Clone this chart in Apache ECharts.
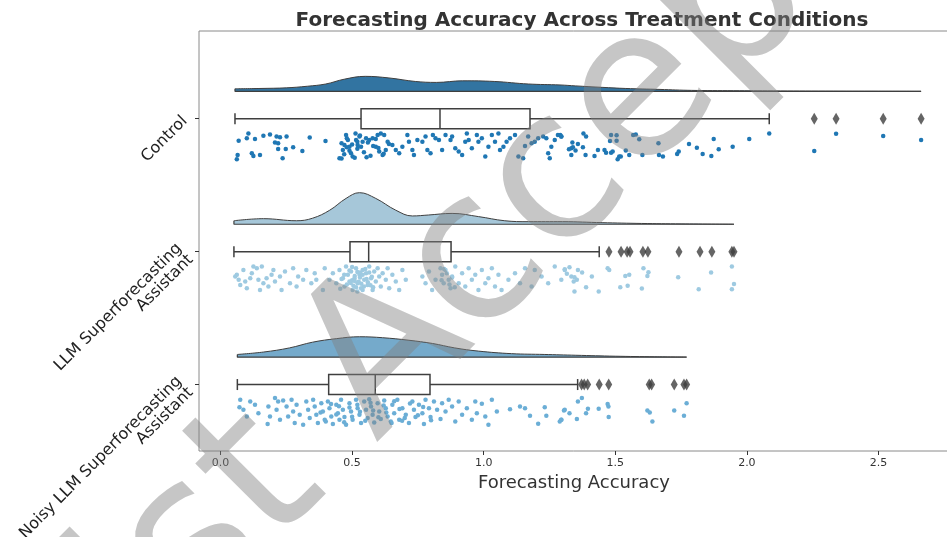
<!DOCTYPE html>
<html>
<head>
<meta charset="utf-8">
<title>Forecasting Accuracy Across Treatment Conditions</title>
<script src="https://cdn.jsdelivr.net/npm/echarts@6/dist/echarts.min.js"></script>
<style>
  html, body { margin: 0; padding: 0; background: #fff; }
  #chart { width: 947px; height: 537px; }
</style>
</head>
<body>
<div id="chart"></div>
<script>
const categories = ['Control', 'LLM Superforecasting\nAssistant', 'Noisy LLM Superforecasting\nAssistant'];
const xTicks = [0, 0.5, 1, 1.5, 2, 2.5];

// box stats: [whisker low, q1, median, q3, whisker high]
const controlBox = [0.055, 0.534, 0.834, 1.176, 2.085];
const llmBox = [0.051, 0.492, 0.563, 0.876, 1.439];
const noisyBox = [0.064, 0.411, 0.588, 0.796, 1.357];

const controlOutliers = [2.256, 2.339, 2.518, 2.662];
const llmOutliers = [1.476, 1.522, 1.545, 1.556, 1.605, 1.624, 1.742, 1.822, 1.867, 1.943, 1.951];
const noisyOutliers = [1.372, 1.382, 1.395, 1.439, 1.475, 1.629, 1.638, 1.724, 1.761, 1.771];

// half-violin density: [x, relative density]
const controlDensity = [[0.055, 0.08], [0.15, 0.09], [0.25, 0.11], [0.33, 0.16], [0.40, 0.23], [0.47, 0.38], [0.55, 0.47], [0.64, 0.42], [0.74, 0.31], [0.82, 0.28], [0.92, 0.33], [1.04, 0.31], [1.17, 0.23], [1.29, 0.2], [1.35, 0.17], [1.45, 0.125], [1.54, 0.09], [1.67, 0.06], [1.79, 0.03], [1.95, 0.02], [2.1, 0.012], [2.3, 0.006], [2.5, 0.003], [2.662, 0.001]];
const llmDensity = [[0.051, 0.11], [0.163, 0.175], [0.289, 0.11], [0.35, 0.19], [0.415, 0.44], [0.477, 0.81], [0.528, 0.99], [0.59, 0.81], [0.666, 0.44], [0.729, 0.26], [0.79, 0.29], [0.88, 0.34], [0.98, 0.24], [1.08, 0.11], [1.17, 0.08], [1.3, 0.08], [1.45, 0.05], [1.6, 0.025], [1.75, 0.012], [1.951, 0.002]];
const noisyDensity = [[0.064, 0.085], [0.163, 0.16], [0.262, 0.29], [0.35, 0.47], [0.44, 0.58], [0.528, 0.64], [0.616, 0.61], [0.716, 0.53], [0.805, 0.43], [0.89, 0.29], [0.98, 0.19], [1.106, 0.11], [1.23, 0.085], [1.35, 0.06], [1.5, 0.03], [1.65, 0.012], [1.771, 0.002]];

// strip points: [x, jitter -1..1]
const controlPoints = [
  [0.069, -0.38], [0.065, 0.64], [0.062, 0.95], [0.106, -0.9], [0.1, -0.55], [0.131, -0.5], [0.119, 0.52], [0.125, 0.71], [0.15, 0.64],
  [0.163, -0.74], [0.188, -0.83], [0.213, -0.67], [0.226, -0.62], [0.251, -0.67], [0.207, -0.24], [0.219, -0.19], [0.248, 0.21], [0.219, 0.21],
  [0.236, 0.88], [0.276, 0.1], [0.311, 0.36], [0.339, -0.6], [0.399, -0.36], [0.452, 0.88], [0.465, 0.29], [0.471, -0.07], [0.477, -0.79],
  [0.484, -0.43], [0.49, 0.05], [0.496, 0.52], [0.502, 0.76], [0.513, -0.9], [0.515, -0.43], [0.528, -0.67], [0.521, -0.07], [0.534, 0.05],
  [0.54, -0.31], [0.553, -0.55], [0.565, -0.43], [0.578, -0.55], [0.597, -0.79], [0.609, -0.9], [0.622, -0.79], [0.59, 0.05], [0.603, 0.4],
  [0.616, 0.64], [0.628, 0.29], [0.635, -0.31], [0.653, -0.07], [0.666, 0.29], [0.679, 0.52], [0.691, 0.05], [0.71, -0.79], [0.716, -0.31],
  [0.729, 0.29], [0.735, 0.64], [0.748, -0.43], [0.767, -0.31], [0.779, -0.67], [0.786, 0.29], [0.798, 0.52], [0.807, -0.79], [0.817, -0.55],
  [0.83, -0.43], [0.842, 0.29], [0.855, -0.79], [0.874, -0.43], [0.88, -0.67], [0.892, 0.17], [0.905, 0.4], [0.918, 0.64], [0.93, -0.31],
  [0.936, -0.9], [0.943, -0.43], [0.955, 0.17], [0.974, -0.79], [0.98, -0.31], [0.993, -0.55], [1.006, 0.76], [1.018, 0.05], [1.031, -0.79],
  [1.043, -0.31], [1.056, -0.9], [1.062, 0.29], [1.075, 0.05], [1.087, -0.31], [1.1, -0.55], [1.119, -0.79], [1.132, 0.76], [1.15, 0.88],
  [1.157, 0], [1.169, -0.67], [1.182, -0.19], [1.194, -0.31], [1.207, -0.55], [1.226, -0.67], [1.238, -0.55], [1.245, 0.52], [1.251, 0.88],
  [1.257, 0.05], [1.27, -0.43], [1.282, -0.79], [1.295, -0.67], [1.333, 0.17],
  [0.46, -0.2], [0.47, 0.6], [0.48, -0.55], [0.49, 0.35], [0.5, -0.1], [0.51, 0.85], [0.52, 0.2], [0.53, -0.75], [0.545, 0.45], [0.56, -0.25],
  [0.57, 0.7], [0.58, 0.0], [0.59, -0.5], [0.6, 0.15], [0.62, 0.55], [0.64, -0.15], [0.46, 0.9], [0.48, 0.1], [0.52, -0.3], [0.555, 0.8],
  [1.291, -0.79], [1.295, -0.67], [1.379, -0.9], [1.389, -0.67], [1.337, -0.24], [1.358, -0.14], [1.339, 0.1], [1.324, 0.24], [1.349, 0.33],
  [1.377, 0.1], [1.333, 0.64], [1.387, 0.64], [1.421, 0.71], [1.434, 0.29], [1.459, 0.29], [1.465, 0.48], [1.484, 0.48], [1.49, 0.4],
  [1.484, -0.79], [1.505, -0.76], [1.48, -0.36], [1.505, -0.38], [1.515, 0.76], [1.509, 0.95], [1.521, 0.76], [1.54, 0.33], [1.553, 0.64],
  [1.568, -0.79], [1.578, -0.83], [1.591, -0.48], [1.603, 0.64], [1.664, -0.19], [1.666, 0.64], [1.681, 0.76], [1.735, 0.57], [1.741, 0.4],
  [1.78, -0.14], [1.81, 0.12], [1.832, 0.57], [1.865, 0.71], [1.874, -0.5], [1.893, 0.24], [1.946, 0.05], [2.009, -0.5], [2.085, -0.9],
  [2.256, 0.36], [2.339, -0.88], [2.518, -0.71], [2.662, -0.43]
];
const llmPoints = [
  [0.056, -0.17], [0.062, -0.29], [0.069, 0.07], [0.075, 0.43], [0.087, -0.64], [0.094, 0.19], [0.1, 0.67], [0.113, -0.05], [0.119, -0.4],
  [0.125, -0.88], [0.138, -0.76], [0.144, 0.07], [0.15, 0.79], [0.157, -0.88], [0.163, 0.31], [0.175, -0.05], [0.182, 0.55], [0.194, -0.29],
  [0.201, -0.64], [0.207, 0.19], [0.226, -0.17], [0.232, 0.79], [0.245, -0.52], [0.264, 0.31], [0.276, -0.76], [0.289, 0.55], [0.295, -0.17],
  [0.314, 0.07], [0.326, -0.64], [0.345, 0.31], [0.358, -0.4], [0.364, 0.07], [0.389, 0.79], [0.396, -0.76], [0.414, 0.07], [0.427, -0.4],
  [0.44, 0.31], [0.452, -0.64], [0.465, -0.05], [0.471, 0.55], [0.477, -0.88], [0.484, -0.29], [0.49, 0.19], [0.496, -0.52], [0.502, 0.79],
  [0.509, -0.05], [0.515, -0.76], [0.521, 0.31], [0.528, -0.29], [0.534, 0.67], [0.54, -0.64], [0.546, 0.07], [0.553, -0.4], [0.559, 0.43],
  [0.565, -0.88], [0.572, -0.05], [0.578, 0.79], [0.584, -0.52], [0.59, 0.19], [0.597, -0.76], [0.603, -0.17], [0.609, 0.55], [0.616, -0.4],
  [0.628, 0.07], [0.635, -0.76], [0.641, 0.67], [0.653, -0.29], [0.666, 0.19], [0.679, 0.79], [0.691, -0.64], [0.704, 0.07], [0.767, -0.17],
  [0.779, 0.31], [0.792, -0.52], [0.804, 0.79], [0.817, 0.07], [0.836, -0.76], [0.842, -0.29], [0.848, 0.31], [0.855, -0.64], [0.867, 0.07],
  [0.874, 0.67], [0.88, -0.17], [0.892, -0.88], [0.905, 0.31], [0.918, -0.4], [0.93, 0.55], [0.943, -0.76], [0.955, 0.07], [0.968, -0.29],
  [0.98, 0.79], [0.993, -0.64], [1.006, 0.31], [1.018, -0.05], [1.031, -0.76], [1.043, 0.55], [1.056, -0.29], [1.068, 0.79], [1.094, 0.07],
  [1.119, -0.4], [1.138, 0.31], [1.157, -0.76], [1.182, 0.55], [1.194, -0.64], [1.22, -0.17], [1.245, 0.31], [1.27, -0.88], [1.295, 0.07],
  [1.308, -0.64], [1.333, -0.17],
  [0.47, -0.3], [0.48, 0.4], [0.49, -0.6], [0.5, 0.1], [0.505, 0.5], [0.51, -0.2], [0.515, 0.6], [0.52, -0.5], [0.525, 0.2], [0.53, -0.1],
  [0.535, 0.35], [0.54, -0.3], [0.545, 0.55], [0.55, -0.7], [0.555, 0.0], [0.56, 0.25], [0.565, -0.45], [0.57, 0.45], [0.575, -0.15], [0.58, 0.6],
  [0.46, 0.0], [0.455, 0.7], [0.5, -0.85], [0.52, 0.9], [0.54, 0.8], [0.495, 0.3], [0.51, 0.15], [0.53, -0.45],
  [0.84, 0.1], [0.86, -0.4], [0.87, 0.4], [0.88, -0.1], [0.89, 0.6], [0.85, -0.7],
  [1.308, -0.69], [1.316, -0.36], [1.326, -0.83], [1.358, -0.64], [1.374, -0.45], [1.345, -0.12], [1.342, 0.19], [1.354, 0.07], [1.345, 0.9],
  [1.389, 0.6], [1.411, -0.17], [1.437, 0.9], [1.471, -0.76], [1.477, -0.64], [1.519, 0.6], [1.538, -0.21], [1.553, -0.29], [1.547, 0.5],
  [1.601, 0.69], [1.607, -0.76], [1.626, -0.48], [1.622, -0.21], [1.739, -0.12], [1.817, 0.74], [1.864, -0.45], [1.943, -0.88], [1.951, 0.36],
  [1.943, 0.74]
];
const noisyPoints = [
  [0.075, -0.86], [0.072, -0.33], [0.087, -0.14], [0.1, 0.33], [0.113, -0.74], [0.131, -0.5], [0.144, 0.1], [0.182, -0.38], [0.188, 0.33],
  [0.179, 0.88], [0.207, -0.98], [0.219, -0.74], [0.213, -0.14], [0.226, 0.57], [0.238, -0.81], [0.251, -0.38], [0.257, 0.33], [0.27, -0.86],
  [0.276, -0.02], [0.282, 0.81], [0.289, -0.5], [0.301, 0.21], [0.314, 0.93], [0.326, -0.74], [0.333, -0.14], [0.339, 0.45], [0.352, -0.86],
  [0.358, -0.38], [0.364, 0.21], [0.37, 0.81], [0.383, -0.62], [0.389, -0.02], [0.396, 0.57], [0.408, -0.74], [0.414, -0.26], [0.421, 0.33],
  [0.427, 0.88], [0.44, -0.5], [0.446, 0.1], [0.452, 0.57], [0.458, -0.86], [0.465, -0.14], [0.471, 0.38], [0.477, 0.93], [0.49, -0.62],
  [0.496, -0.02], [0.502, 0.57], [0.515, -0.86], [0.521, -0.26], [0.528, 0.21], [0.534, 0.81], [0.546, -0.74], [0.553, -0.14], [0.559, 0.45],
  [0.565, -0.9], [0.572, -0.38], [0.578, 0.21], [0.584, 0.76], [0.597, -0.62], [0.603, -0.02], [0.609, 0.52], [0.622, -0.81], [0.628, -0.26],
  [0.635, 0.33], [0.647, 0.69], [0.653, -0.5], [0.66, 0.1], [0.672, -0.86], [0.679, 0.57], [0.691, -0.26], [0.704, 0.21], [0.716, 0.81],
  [0.729, -0.74], [0.735, -0.14], [0.741, 0.38], [0.754, -0.5], [0.767, 0.1], [0.773, 0.88], [0.779, -0.86], [0.792, -0.26], [0.798, 0.38],
  [0.811, -0.74], [0.823, -0.14], [0.836, 0.52], [0.842, -0.62], [0.855, -0.02], [0.867, -0.86], [0.88, -0.38], [0.892, 0.69], [0.905, -0.74],
  [0.918, 0.21], [0.936, -0.26], [0.955, 0.57], [0.968, -0.74], [0.974, 0.1], [0.993, -0.57], [1.006, 0.33], [1.018, 0.93], [1.031, -0.86],
  [1.05, -0.02], [1.1, -0.19], [1.138, -0.38], [1.157, -0.26], [1.176, 0.29], [1.207, 0.86], [1.232, -0.33], [1.238, 0.29], [1.295, 0.57],
  [1.308, -0.14],
  [0.4, 0.7], [0.45, -0.4], [0.5, 0.35], [0.52, -0.5], [0.55, 0.65], [0.58, -0.1], [0.6, 0.4], [0.62, -0.45], [0.65, 0.8], [0.68, -0.2],
  [0.7, 0.45], [0.72, -0.6], [0.75, 0.25], [0.38, 0.05], [0.42, -0.55], [0.47, 0.75], [0.53, 0.0], [0.57, -0.65], [0.63, 0.05], [0.66, -0.75],
  [0.69, 0.65], [0.77, -0.35], [0.8, 0.6], [0.44, 0.2], [0.49, -0.3],
  [1.295, 0.57], [1.289, 0.69], [1.305, -0.1], [1.326, 0.1], [1.354, 0.52], [1.358, -0.74], [1.373, -0.98], [1.389, 0.1], [1.396, -0.21],
  [1.437, -0.21], [1.471, -0.55], [1.474, -0.38], [1.475, 0.38], [1.622, -0.1], [1.631, 0.05], [1.641, 0.69], [1.724, -0.1], [1.761, 0.29],
  [1.771, -0.62]
];

// layout in y-axis units (category rows sit at 0, 1, 2)
const VIOLIN_BASE = 0.206;
const VIOLIN_SCALE = 0.24;
const STRIP_CENTER = 0.205;
const STRIP_HALF = 0.105;
const EDGE = '#3f3f3f';

const groups = [
  { box: controlBox, density: controlDensity, points: controlPoints, outliers: controlOutliers, fill: '#3274a1', dot: '#1f77b4' },
  { box: llmBox, density: llmDensity, points: llmPoints, outliers: llmOutliers, fill: '#a6c7d9', dot: '#9ecae1' },
  { box: noisyBox, density: noisyDensity, points: noisyPoints, outliers: noisyOutliers, fill: '#75aacb', dot: '#6baed6' }
];

const series = [];
groups.forEach((g, i) => {
  const base = i - VIOLIN_BASE;
  const curve = g.density.map(d => [d[0], base - d[1] * VIOLIN_SCALE]);
  // violin half (smoothed density filled down to its baseline)
  series.push({
    type: 'line',
    data: curve,
    smooth: 0.4,
    symbol: 'none',
    lineStyle: { color: EDGE, width: 1 },
    areaStyle: { color: g.fill, opacity: 1, origin: base },
    z: 2,
    silent: true
  });
  // flat bottom edge + left cut edge of the violin
  series.push({
    type: 'line',
    data: [[curve[curve.length - 1][0], base], [curve[0][0], base], curve[0]],
    symbol: 'none',
    lineStyle: { color: EDGE, width: 1.2 },
    z: 3,
    silent: true
  });
  // rain (jittered points)
  series.push({
    type: 'scatter',
    data: g.points.map(p => [p[0], i + STRIP_CENTER + p[1] * STRIP_HALF]),
    symbolSize: 4.5,
    itemStyle: { color: g.dot, opacity: 1 },
    z: 2,
    silent: true
  });
  // box + whiskers
  series.push({
    type: 'custom',
    data: [[i].concat(g.box)],
    encode: { x: [1, 2, 3, 4, 5], y: 0 },
    z: 4,
    silent: true,
    renderItem: (params, api) => {
      const y = api.value(0);
      const lo = api.coord([api.value(1), y]);
      const q1 = api.coord([api.value(2), y]);
      const md = api.coord([api.value(3), y]);
      const q3 = api.coord([api.value(4), y]);
      const hi = api.coord([api.value(5), y]);
      const h = 10, cap = 5.5;
      const st = { stroke: EDGE, lineWidth: 1.5 };
      return {
        type: 'group',
        children: [
          { type: 'line', shape: { x1: lo[0], y1: lo[1], x2: q1[0], y2: q1[1] }, style: st },
          { type: 'line', shape: { x1: q3[0], y1: q3[1], x2: hi[0], y2: hi[1] }, style: st },
          { type: 'line', shape: { x1: lo[0], y1: lo[1] - cap, x2: lo[0], y2: lo[1] + cap }, style: st },
          { type: 'line', shape: { x1: hi[0], y1: hi[1] - cap, x2: hi[0], y2: hi[1] + cap }, style: st },
          { type: 'rect', shape: { x: q1[0], y: q1[1] - h, width: q3[0] - q1[0], height: 2 * h }, style: { fill: '#fff', stroke: EDGE, lineWidth: 1.5 } },
          { type: 'line', shape: { x1: md[0], y1: md[1] - h, x2: md[0], y2: md[1] + h }, style: st }
        ]
      };
    }
  });
  series.push({
    type: 'scatter',
    data: g.outliers.map(v => [v, i]),
    symbol: 'diamond',
    symbolSize: [7, 12],
    itemStyle: { color: EDGE },
    z: 5,
    silent: true
  });
});

const chart = echarts.init(document.getElementById('chart'), null, { renderer: 'canvas' });
chart.setOption({
  animation: false,
  backgroundColor: '#fff',
  textStyle: { fontFamily: 'DejaVu Sans' },
  title: {
    text: 'Forecasting Accuracy Across Treatment Conditions',
    left: 577,
    top: 6,
    textAlign: 'center',
    textStyle: { fontSize: 20, fontWeight: 'bold', color: '#333', fontFamily: 'DejaVu Sans' }
  },
  grid: {
    left: 199, top: 31, right: -2, bottom: 86,
    outerBoundsMode: 'none',
    containLabel: false,
    show: true, borderColor: '#8a8a8a', borderWidth: 1, backgroundColor: 'transparent'
  },
  xAxis: {
    type: 'value',
    min: -0.0817,
    max: 2.768,
    name: 'Forecasting Accuracy',
    nameLocation: 'middle',
    nameGap: 22,
    nameTextStyle: { fontSize: 18, color: '#333', fontFamily: 'DejaVu Sans' },
    axisLine: { show: false, onZero: false },
    splitLine: { show: false },
    axisTick: { show: true, customValues: xTicks, length: 4, lineStyle: { color: '#333' } },
    axisLabel: { customValues: xTicks, formatter: v => v.toFixed(1), fontSize: 11, color: '#333', margin: 7 }
  },
  yAxis: {
    type: 'value',
    min: -0.66,
    max: 2.5,
    inverse: true,
    axisLine: { show: false, onZero: false },
    splitLine: { show: false },
    axisTick: { show: true, customValues: [0, 1, 2], length: 4, lineStyle: { color: '#333' } },
    axisLabel: {
      customValues: [0, 1, 2],
      formatter: v => categories[Math.round(v)],
      rotate: 45,
      fontSize: 16,
      color: '#222',
      margin: 14,
      align: 'right'
    }
  },
  // diagonal watermark over the figure
  graphic: [{
    type: 'text',
    x: 116,
    y: 627,
    rotation: 45 * Math.PI / 180,
    z: 100,
    silent: true,
    style: {
      text: 'ist Accepted',
      font: '208px "DejaVu Sans"',
      fill: 'rgba(128,128,128,0.45)',
      textAlign: 'left',
      textVerticalAlign: 'middle'
    }
  }],
  series: series
});
</script>
</body>
</html>
